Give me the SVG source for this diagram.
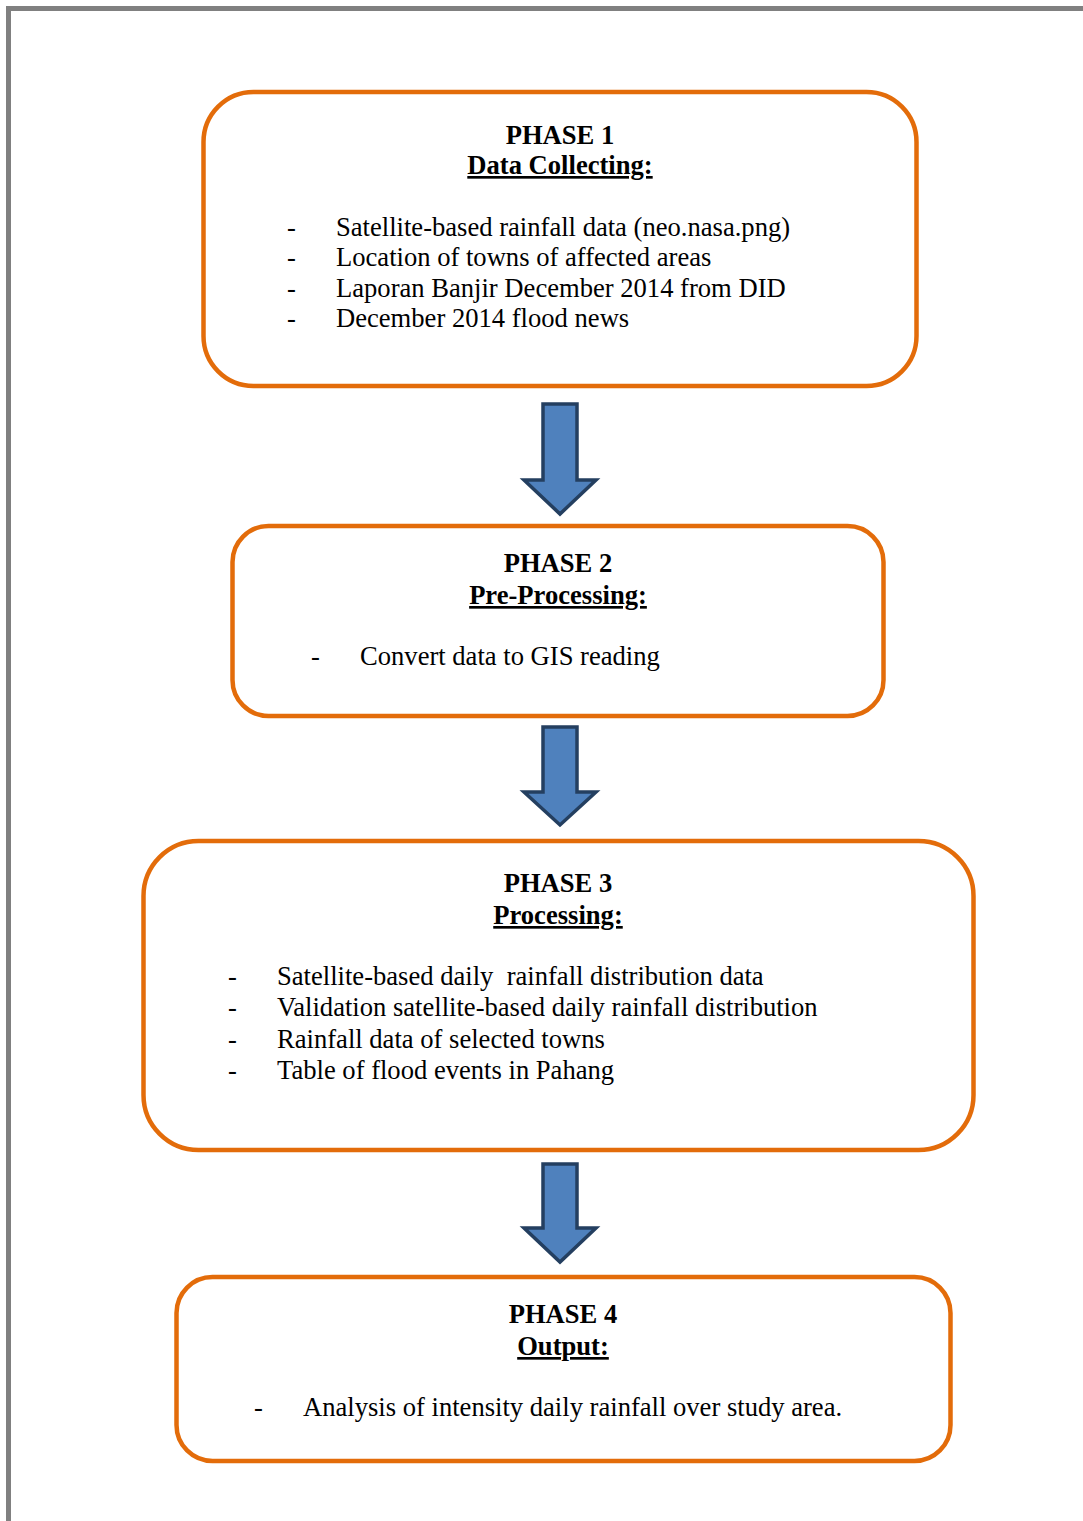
<svg xmlns="http://www.w3.org/2000/svg" width="1083" height="1521" viewBox="0 0 1083 1521">
<defs>
<style>
.box{fill:#fff;stroke:#E36C0A;stroke-width:4.5}
.arr{fill:#4F81BD;stroke:#243F60;stroke-width:3.5;stroke-linejoin:miter}
text{font-family:"Liberation Serif","Times New Roman",serif;font-size:26.6px;fill:#000}
.h{font-weight:bold;text-anchor:middle}
.u{text-decoration:underline}
</style>
</defs>
<rect width="1083" height="1521" fill="#fff"/>
<g id="page-border" fill="none" stroke="#808080" stroke-width="5">
<path d="M8.5 1521 V8.5 H1083"/>
</g>
<g id="connectors">
<path class="arr" d="M543 404 H577 V480 H596 L560 514 L524 480 H543 Z"/>
<path class="arr" d="M543 727 H577 V792 H596 L560 825 L524 792 H543 Z"/>
<path class="arr" d="M543 1164 H577 V1228 H596 L560 1262 L524 1228 H543 Z"/>
</g>
<g id="phase1">
<rect class="box" x="203.5" y="92" width="713" height="294" rx="50"/>
<text class="h" x="560" y="144">PHASE 1</text>
<text class="h u" x="560" y="174">Data Collecting:</text>
<text x="287" y="236">-</text><text x="336" y="236">Satellite-based rainfall data (neo.nasa.png)</text>
<text x="287" y="266">-</text><text x="336" y="266">Location of towns of affected areas</text>
<text x="287" y="297">-</text><text x="336" y="297">Laporan Banjir December 2014 from DID</text>
<text x="287" y="327">-</text><text x="336" y="327">December 2014 flood news</text>
</g>
<g id="phase2">
<rect class="box" x="232.5" y="526" width="651" height="190" rx="36"/>
<text class="h" x="558" y="572">PHASE 2</text>
<text class="h u" x="558" y="604">Pre-Processing:</text>
<text x="311" y="665">-</text><text x="360" y="665">Convert data to GIS reading</text>
</g>
<g id="phase3">
<rect class="box" x="143.5" y="841" width="830" height="309" rx="55"/>
<text class="h" x="558" y="892">PHASE 3</text>
<text class="h u" x="558" y="924">Processing:</text>
<text x="228" y="985">-</text><text x="277" y="985" xml:space="preserve">Satellite-based daily  rainfall distribution data</text>
<text x="228" y="1016">-</text><text x="277" y="1016">Validation satellite-based daily rainfall distribution</text>
<text x="228" y="1048">-</text><text x="277" y="1048">Rainfall data of selected towns</text>
<text x="228" y="1079">-</text><text x="277" y="1079">Table of flood events in Pahang</text>
</g>
<g id="phase4">
<rect class="box" x="176.5" y="1277" width="774" height="184" rx="36"/>
<text class="h" x="563" y="1323">PHASE 4</text>
<text class="h u" x="563" y="1355">Output:</text>
<text x="254" y="1416">-</text><text x="303" y="1416">Analysis of intensity daily rainfall over study area.</text>
</g>
</svg>
